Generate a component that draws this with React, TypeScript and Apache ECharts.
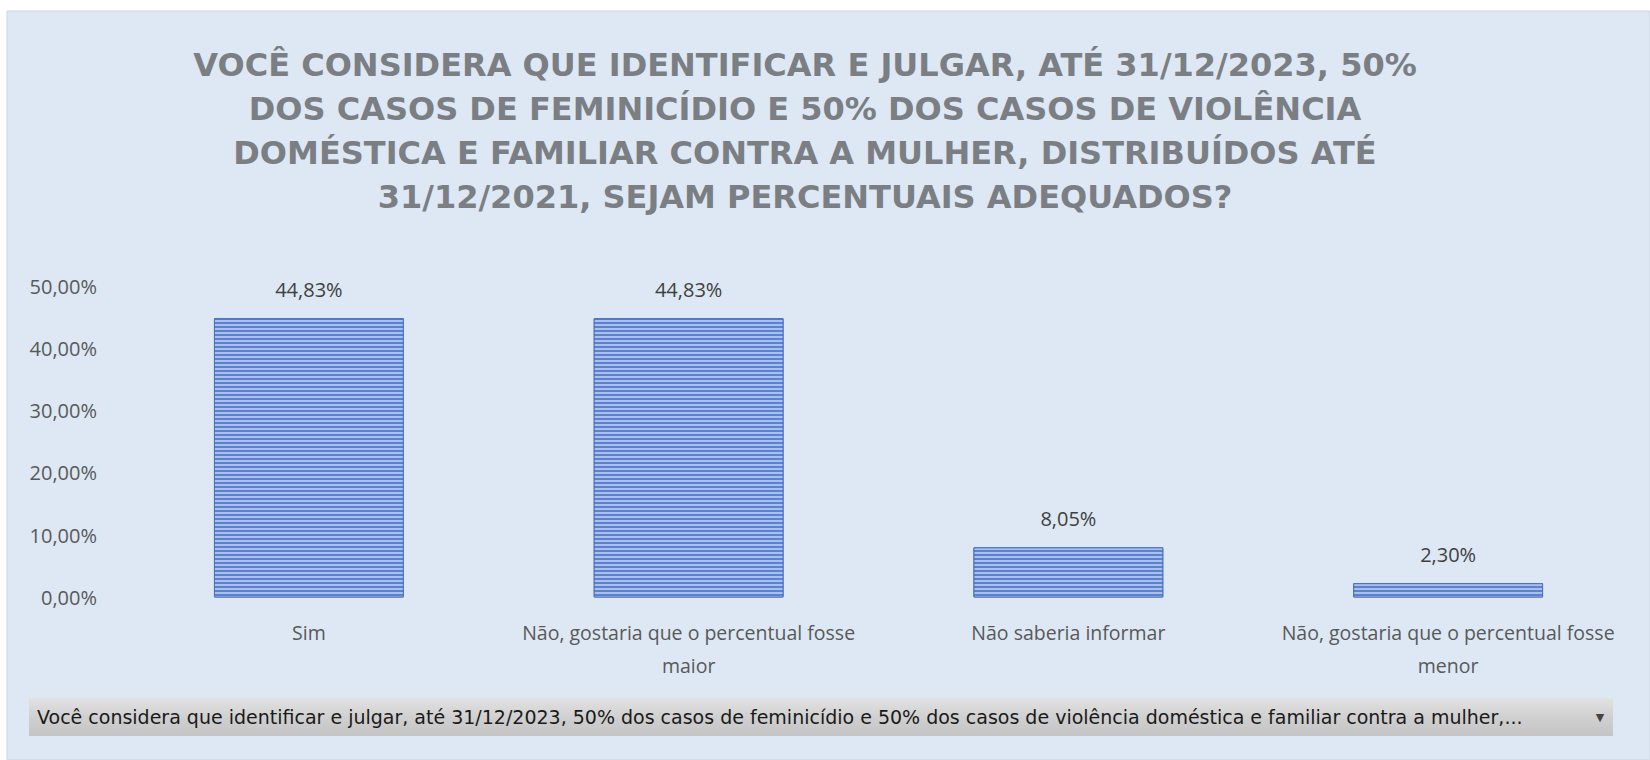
import React, { useEffect, useRef } from "react";
import * as echarts from "echarts";

const titleLines = [
  "VOCÊ CONSIDERA QUE IDENTIFICAR E JULGAR, ATÉ 31/12/2023, 50%",
  "DOS CASOS DE FEMINICÍDIO E 50% DOS CASOS DE VIOLÊNCIA",
  "DOMÉSTICA E FAMILIAR CONTRA A MULHER, DISTRIBUÍDOS ATÉ",
  "31/12/2021, SEJAM PERCENTUAIS ADEQUADOS?",
];
const categories = [
  "Sim",
  "Não, gostaria que o percentual fosse\nmaior",
  "Não saberia informar",
  "Não, gostaria que o percentual fosse\nmenor",
];
const values = [0.4483, 0.4483, 0.0805, 0.023];
const yTicks = { min: 0, max: 0.5, interval: 0.1 };
const filterText =
  "Você considera que identificar e julgar, até 31/12/2023, 50% dos casos de feminicídio e 50% dos casos de violência doméstica e familiar contra a mulher,...";

const pct = (v: number) => (v * 100).toFixed(2).replace(".", ",") + "%";

export default function App() {
  const ref = useRef<HTMLDivElement>(null);
  useEffect(() => {
    const chart = echarts.init(ref.current!, null, { renderer: "svg" });
    chart.setOption({
      animation: false,
      backgroundColor: "#ffffff",
      title: {
        text: titleLines.join("\n"),
        left: 800,
        top: 38,
        textAlign: "center",
        textStyle: {
          fontFamily: "DejaVu Sans",
          fontWeight: "bold",
          fontSize: 32,
          lineHeight: 44,
          color: "#7b7e83",
        },
      },
      graphic: [
        {
          type: "rect",
          z: -10,
          shape: { x: 7, y: 11, width: 1643, height: 749 },
          style: { fill: "#dde8f4", stroke: "#cdd6e2", lineWidth: 1 },
        },
        {
          type: "rect",
          z: 5,
          shape: { x: 29, y: 698, width: 1584, height: 38 },
          style: {
            fill: new echarts.graphic.LinearGradient(0, 0, 0, 1, [
              { offset: 0, color: "#e2e2e2" },
              { offset: 0.5, color: "#d0d0d0" },
              { offset: 1, color: "#c4c4c4" },
            ]),
          },
        },
        {
          type: "text",
          z: 6,
          x: 37,
          y: 717,
          style: {
            text: filterText,
            fontFamily: "DejaVu Sans",
            fontSize: 19,
            fill: "#1a1a1a",
            verticalAlign: "middle",
          },
        },
        {
          type: "text",
          z: 6,
          x: 1600,
          y: 717,
          style: {
            text: "▼",
            fontFamily: "DejaVu Sans",
            fontSize: 11,
            fill: "#444",
            align: "center",
            verticalAlign: "middle",
          },
        },
      ],
      grid: { left: 119, right: 12, top: 286, bottom: 162.5 },
      xAxis: {
        type: "category",
        data: categories,
        axisLine: { show: false },
        axisTick: { show: false },
        axisLabel: {
          interval: 0,
          margin: 18,
          fontFamily: "Open Sans",
          fontSize: 19.5,
          lineHeight: 33,
          color: "#595959",
        },
      },
      yAxis: {
        type: "value",
        min: yTicks.min,
        max: yTicks.max,
        interval: yTicks.interval,
        splitLine: { show: false },
        axisLine: { show: false },
        axisTick: { show: false },
        axisLabel: {
          margin: 22,
          fontFamily: "Open Sans",
          fontSize: 20,
          color: "#595959",
          padding: [0, 0, 5, 0],
          formatter: (v: number) => pct(v),
        },
      },
      series: [
        {
          type: "bar",
          data: values,
          barWidth: "50%",
          itemStyle: {
            color: "#5a82d0",
            borderColor: "#4a72c0",
            borderWidth: 1,
            decal: {
              symbol: "rect",
              symbolSize: 1,
              dashArrayX: [[1, 0]],
              dashArrayY: [1.5, 2],
              rotation: 0,
              color: "rgba(190,208,242,0.8)",
            },
          },
          label: {
            show: true,
            position: "top",
            distance: 19,
            fontFamily: "Open Sans",
            fontSize: 20,
            color: "#404040",
            formatter: (p: any) => pct(p.value),
          },
        },
      ],
    });
    return () => chart.dispose();
  }, []);
  return (
    <div
      ref={ref}
      style={{ position: "fixed", left: 0, top: 0, width: 1650, height: 760 }}
    />
  );
}
